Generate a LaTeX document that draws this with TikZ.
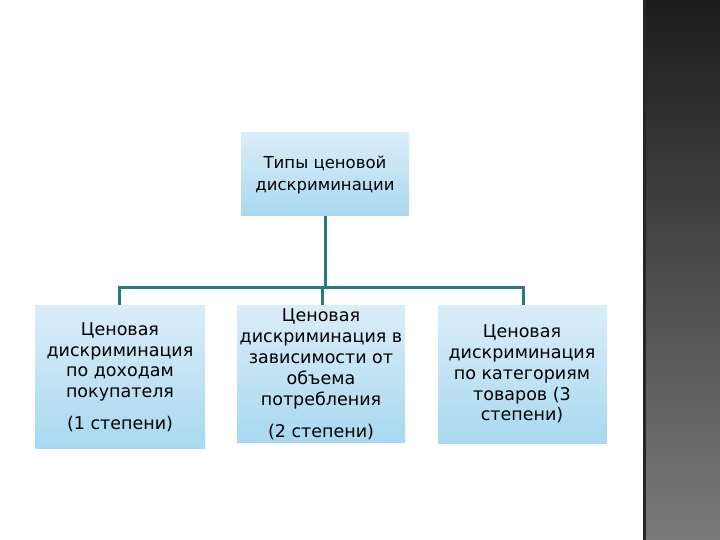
\documentclass[tikz,border=0pt]{standalone}
\usepackage{fontspec}
\setmainfont{DejaVu Sans}
\newfontfamily\topfont{DejaVu Sans}
\begin{document}
\begin{tikzpicture}[x=1pt,y=-1pt,
  boxshade/.style={draw=none,top color=boxtop,bottom color=boxbot,middle color=boxmid},
  conn/.style={draw=linecol,line width=3pt},
  btext/.style={font=\fontsize{17.5}{20.8}\selectfont,align=center,text=black,inner sep=0pt}]
\definecolor{boxtop}{HTML}{DAEDF8}
\definecolor{boxmid}{HTML}{C2E3F4}
\definecolor{boxbot}{HTML}{A8D8F0}
\definecolor{linecol}{HTML}{2A7882}
\definecolor{bandtop}{HTML}{1C1C1C}
\definecolor{bandbot}{HTML}{7A7A7A}
\useasboundingbox (0,0) rectangle (720,540);
\fill[white] (0,0) rectangle (720,540);
% dark band on the right
\shade[top color=bandtop,bottom color=bandbot] (643,0) rectangle (720,540);
\fill[black!85] (643,0) rectangle (645.5,540);
% boxes
\path[boxshade] (241,133) rectangle (409,216);
\path[boxshade] (35,305) rectangle (205,448);
\path[boxshade] (237,305) rectangle (405,442);
\path[boxshade] (438,305) rectangle (607,443);
\coordinate (topB) at (325,216);
\coordinate (hub) at (325,287);
\coordinate (hl) at (119.5,287);
\coordinate (hr) at (523,287);
\coordinate (bl) at (119.5,305);
\coordinate (bm) at (322,305);
\coordinate (br) at (523,305);
\coordinate (hm) at (322,287);
% connectors
\draw[conn] (topB) -- (hub);
\draw[conn] (bl) -- (hl) -- (hr) -- (br);
\draw[conn] (hm) -- (bm);
% texts
\node[font=\topfont\fontsize{16.5}{22}\selectfont,align=center,inner sep=0pt] (top) at (325,175) {Типы ценовой\\дискриминации};
\node[btext] (l) at (120,362) {Ценовая\\дискриминация\\по доходам\\покупателя};
\node[btext] (l2) at (120,424) {(1 степени)};
\node[btext] (m) at (321,359) {Ценовая\\дискриминация в\\зависимости от\\объема\\потребления};
\node[btext] (m2) at (321,432) {(2 степени)};
\node[btext] (r) at (522,374) {Ценовая\\дискриминация\\по категориям\\товаров (3\\степени)};
\end{tikzpicture}
\end{document}
